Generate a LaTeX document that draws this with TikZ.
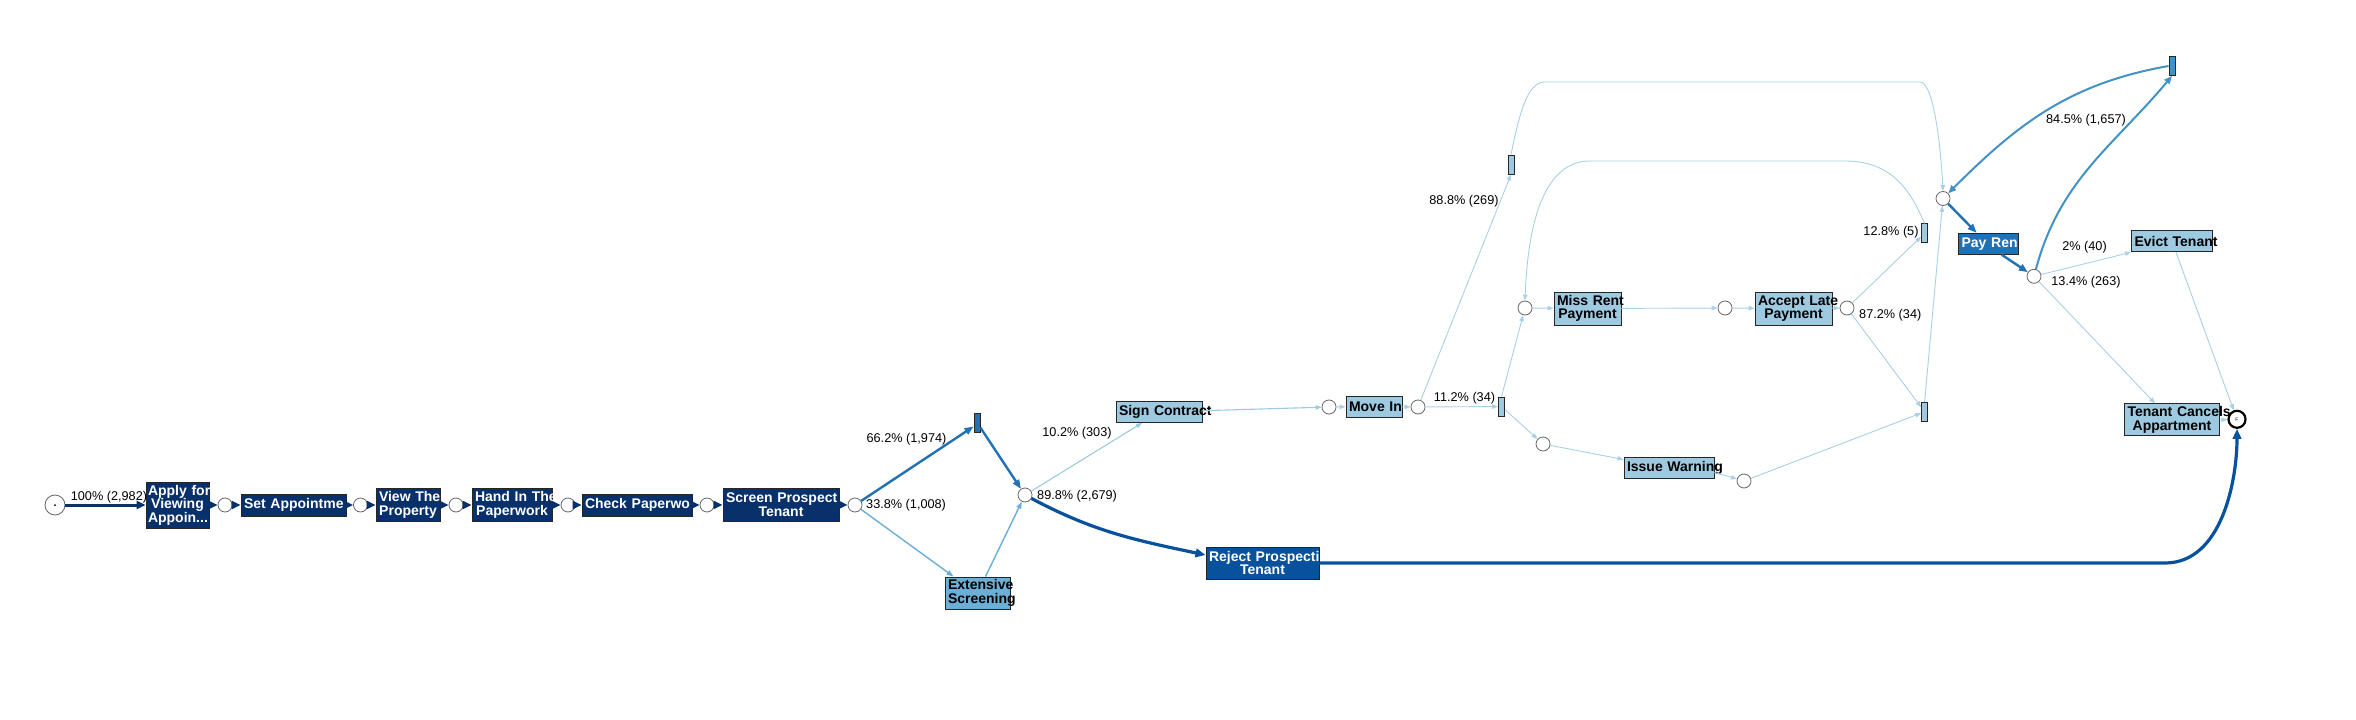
\documentclass[tikz,border=0pt]{standalone}
\usepackage{fontspec}
\setmainfont{Liberation Sans}
\usetikzlibrary{arrows.meta}
\definecolor{cnavy}{HTML}{08306B}
\definecolor{cdark}{HTML}{08519C}
\definecolor{cmid}{HTML}{2171B5}
\definecolor{cmidb}{HTML}{4292C6}
\definecolor{clight}{HTML}{6BAED6}
\definecolor{cpale}{HTML}{9ECAE1}
\definecolor{cedge}{HTML}{A9D0E6}
\newcommand{\bxl}[1]{\mbox{#1}}
\begin{document}
\begin{tikzpicture}[x=1pt,y=-1pt,
  pl/.style={circle,draw=black!60,fill=white,line width=0.8pt,minimum size=14pt,inner sep=0pt},
  barbox/.style={rectangle,draw=black!85,line width=0.9pt,minimum width=6pt,minimum height=19pt,inner sep=0pt},
  box/.style={rectangle,draw=black!85,line width=0.9pt,inner xsep=3pt,inner ysep=0pt,align=center,font=\bfseries\fontsize{14}{13.5}\selectfont},
  dkbox/.style={box,fill=cnavy,text=white},
  lbl/.style={inner sep=0pt,font=\fontsize{12.7}{14}\selectfont},
  navyedge/.style={draw=cnavy,line width=3pt,-{Triangle[length=9pt,width=8pt]}},
  darkedge/.style={draw=cdark,line width=3.2pt,-{Triangle[length=10pt,width=8.5pt]}},
  midedge/.style={draw=cmid,line width=2.4pt,-{Triangle[length=9pt,width=7pt]}},
  midbedge/.style={draw=cmidb,line width=2pt,-{Triangle[length=8pt,width=6.5pt]}},
  lightedge/.style={draw=clight,line width=1.4pt,-{Triangle[length=7pt,width=5pt]}},
  paleedge/.style={draw=cedge,line width=0.9pt,-{Triangle[length=6pt,width=4.5pt]}}
]
\useasboundingbox[fill=white] (0,0) rectangle (2356,720);

% main chain
\node[pl,minimum size=20pt] (start) at (55,505) {};
\fill[black] (start.center) circle[radius=1pt];
\node[dkbox,minimum width=63pt,text width=59pt,inner xsep=2pt,minimum height=46pt] (apply) at (177.5,505) {\bxl{Apply for}\\\bxl{Viewing}\\\bxl{Appoin...}};
\node[pl] (c1) at (225,505) {};
\node[dkbox,minimum width=105pt,text width=99pt,minimum height=22pt] (setap) at (293.5,505) {\bxl{Set Appointme}};
\node[pl] (c2) at (360.5,505) {};
\node[dkbox,minimum width=64pt,text width=58pt,minimum height=33pt] (view) at (408,505) {\bxl{View The}\\\bxl{Property}};
\node[pl] (c3) at (456,505) {};
\node[dkbox,minimum width=80pt,text width=74pt,minimum height=33pt] (hand) at (512,505) {\bxl{Hand In The}\\\bxl{Paperwork}};
\node[pl] (c4) at (568,505) {};
\node[dkbox,minimum width=110pt,text width=104pt,minimum height=22pt] (check) at (637,505) {\bxl{Check Paperwo}};
\node[pl] (c5) at (707,505) {};
\node[dkbox,minimum width=116pt,text width=110pt,minimum height=33pt] (screen) at (781,504.5) {\bxl{Screen Prospect}\\\bxl{Tenant}};
\node[pl] (c6) at (855,505) {};

% screening
\node[barbox,fill=cmid] (bar1) at (977,422.5) {};
\node[pl] (c7) at (1025,495) {};
\node[box,fill=clight,minimum width=65pt,text width=59pt,minimum height=32pt] (ext) at (977.5,593) {\bxl{Extensive}\\\bxl{Screening}};
\node[box,fill=cpale,minimum width=86pt,text width=80pt,minimum height=21pt] (sign) at (1159,412) {\bxl{Sign Contract}};
\node[box,fill=cdark,text=white,minimum width=113pt,text width=107pt,minimum height=32pt] (reject) at (1262.5,563) {\bxl{Reject Prospecti}\\\bxl{Tenant}};

% move in and rent
\node[pl] (c8) at (1329,407) {};
\node[box,fill=cpale,minimum width=56pt,text width=50pt,minimum height=21pt] (movein) at (1374,406.5) {\bxl{Move In}};
\node[pl] (c9) at (1418,407) {};
\node[barbox,fill=cpale] (bar2) at (1501.5,406.5) {};
\node[barbox,fill=cpale] (bar3) at (1511,164.5) {};
\node[pl] (c10) at (1525,308) {};
\node[box,fill=cpale,minimum width=67pt,text width=61pt,minimum height=33pt] (miss) at (1587.5,308.5) {\bxl{Miss Rent}\\\bxl{Payment}};
\node[pl] (c11) at (1725,308) {};
\node[box,fill=cpale,minimum width=77pt,text width=71pt,minimum height=33pt] (accept) at (1793.5,308.5) {\bxl{Accept Late}\\\bxl{Payment}};
\node[pl] (c12) at (1847,308) {};
\node[barbox,fill=cpale] (bar4) at (1924.6,233.3) {};
\node[barbox,fill=cpale] (bar5) at (1924.6,411.8) {};
\node[pl] (c13) at (1543,444) {};
\node[box,fill=cpale,minimum width=90pt,text width=84pt,minimum height=21pt] (warn) at (1669,467.5) {\bxl{Issue Warning}};
\node[pl] (c14) at (1744,481) {};
\node[pl] (c15) at (1943,198.5) {};
\node[box,fill=cmid,text=white,minimum width=60pt,text width=54pt,minimum height=21pt] (pay) at (1988.6,243.7) {\bxl{Pay Ren}};
\node[pl] (c16) at (2034,276.3) {};
\node[barbox,fill=cmidb] (bar6) at (2172,66) {};
\node[box,fill=cpale,minimum width=81pt,text width=75pt,minimum height=21pt] (evict) at (2172,241.3) {\bxl{Evict Tenant}};
\node[box,fill=cpale,minimum width=95pt,text width=89pt,minimum height=32pt] (cancel) at (2172,419.8) {\bxl{Tenant Cancels}\\\bxl{Appartment}};
\node[circle,draw=black,fill=white,line width=2.2pt,minimum size=17pt,inner sep=0pt,font=\fontsize{5}{5}\selectfont] (end) at (2237,419.3) {F};

% main chain edges
\draw[navyedge] (start) -- (apply);
\draw[navyedge] (apply) -- (c1);
\draw[navyedge] (c1) -- (setap);
\draw[navyedge] (setap) -- (c2);
\draw[navyedge] (c2) -- (view);
\draw[navyedge] (view) -- (c3);
\draw[navyedge] (c3) -- (hand);
\draw[navyedge] (hand) -- (c4);
\draw[navyedge] (c4) -- (check);
\draw[navyedge] (check) -- (c5);
\draw[navyedge] (c5) -- (screen);
\draw[navyedge] (screen) -- (c6);

% screening edges
\draw[midedge] (c6) -- ([yshift=-4pt]bar1.west);
\draw[midedge] (bar1) -- (c7);
\draw[lightedge] (c6) -- ([xshift=-24pt]ext.north);
\draw[lightedge] ([xshift=8pt]ext.north) -- (c7);
\draw[paleedge,draw=cpale,line width=1.1pt] (c7) -- ([xshift=-17pt]sign.south);
\draw[darkedge] (c7) to[out=-28,in=168] ([yshift=8pt]reject.west);
\draw[darkedge] (reject.east) -- (2165,563) .. controls (2222,563) and (2237,480) .. (end.south);

% move in
\draw[paleedge,draw=cpale,line width=1.1pt] (sign) -- (c8);
\draw[paleedge] (c8) -- (movein);
\draw[paleedge] (movein) -- (c9);
\draw[paleedge] (c9) -- (bar2);
\draw[paleedge] (c9) -- (bar3.south);
\draw[paleedge] (bar2.north) -- (c10);
\draw[paleedge] (bar2) -- (c13);
\draw[paleedge] (c13) -- ([yshift=8pt]warn.west);
\draw[paleedge] ([yshift=-5pt]warn.east) -- (c14);
\draw[paleedge] (c14) -- (bar5);
\draw[paleedge] (c10) -- (miss);
\draw[paleedge] (miss) -- (c11);
\draw[paleedge] (c11) -- (accept);
\draw[paleedge] (accept) -- (c12);
\draw[paleedge] (c12) -- (bar4);
\draw[paleedge] (c12) -- (bar5);
\draw[paleedge] (bar4.north) .. controls (1912,195) and (1895,161) .. (1845,161) -- (1590,161) .. controls (1545,161) and (1528,220) .. (c10.north);
\draw[paleedge] (bar3.north) .. controls (1520,110) and (1528,82) .. (1545,82) -- (1920,82) .. controls (1934,82) and (1941,150) .. (c15.north);
\draw[paleedge] (bar5.north) -- (c15);

% rent loop
\draw[midedge] (c15) -- ([xshift=-12pt]pay.north);
\draw[midedge] ([xshift=13pt]pay.south) -- (c16);
\draw[midbedge] (c16) to[out=75,in=-130] (bar6.south);
\draw[midbedge] (bar6.west) to[out=190,in=45] (c15);
\draw[paleedge] (c16) -- (evict.south west);
\draw[paleedge] (c16) -- ([xshift=-17pt]cancel.north);
\draw[paleedge] ([xshift=4pt]evict.south) -- (end);
\draw[paleedge] (cancel.east) -- (end);

% labels
\node[lbl] (l100) at (109,497) {100\% (2,982)};
\node[lbl] (l662) at (906.5,439) {66.2\% (1,974)};
\node[lbl,anchor=west] (l338) at (866,505) {33.8\% (1,008)};
\node[lbl] (l102) at (1077,433) {10.2\% (303)};
\node[lbl,anchor=west] (l898) at (1037,496) {89.8\% (2,679)};
\node[lbl] (l112) at (1464.5,398) {11.2\% (34)};
\node[lbl] (l888) at (1464,201) {88.8\% (269)};
\node[lbl,anchor=west] (l872) at (1859,315) {87.2\% (34)};
\node[lbl] (l128) at (1891,232) {12.8\% (5)};
\node[lbl] (l845) at (2086,120) {84.5\% (1,657)};
\node[lbl] (l2) at (2084.5,247) {2\% (40)};
\node[lbl] (l134) at (2086,282) {13.4\% (263)};
\end{tikzpicture}
\end{document}
